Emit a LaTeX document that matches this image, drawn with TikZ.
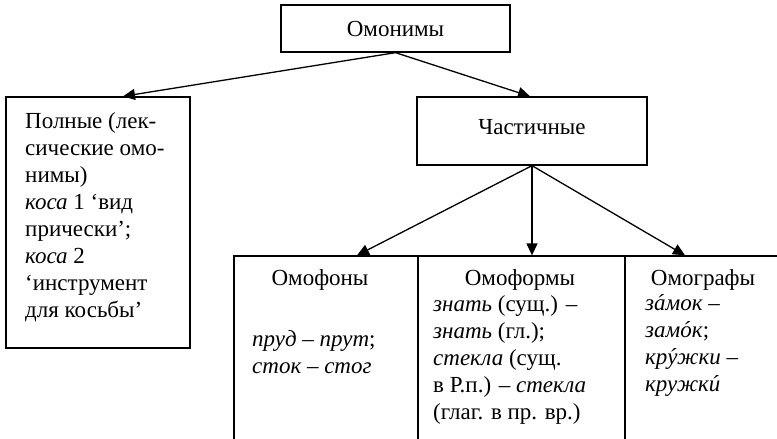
\documentclass[tikz,border=0pt]{standalone}
\usepackage{fontspec}
\setmainfont{Liberation Serif}
\usetikzlibrary{arrows.meta,positioning}

\newcommand{\stress}[1]{\accent"00B4 #1}

\tikzset{
  box/.style={draw, line width=1.3pt, inner sep=0pt, font=\fontsize{23}{27}\selectfont},
  txt/.style={inner sep=0pt, align=left, font=\fontsize{23}{27}\selectfont},
  arr/.style={-{Triangle[length=12pt,width=11pt]}, line width=1.3pt}
}

\begin{document}
\begin{tikzpicture}[x=1pt,y=-1pt]
    \clip (0,0) rectangle (777,439);

    % Boxes
    \node[box, minimum width=229pt, minimum height=47pt] (omon) at (395.5,28.5) {Омонимы};
    \node[box, minimum width=184pt, minimum height=251pt] (full) at (98,222.5) {};
    \node[box, minimum width=230pt, minimum height=68pt, text depth=8pt] (part) at (532,131) {Частичные};

    \node[box, minimum width=184pt, minimum height=220pt] (omof) at (326,366) {};
    \node[box, minimum width=207pt, minimum height=220pt] (omoform) at (521.5,366) {};
    \node[box, minimum width=175pt, minimum height=220pt] (omogr) at (712.5,366) {};

    % Texts (base = last line)
    \node[txt, anchor=base west] (fulltxt) at (25,317) {Полные (лек-\\сические омо-\\нимы)\\\textit{коса} 1 ‘вид\\прически’;\\\textit{коса} 2\\‘инструмент\\для косьбы’};

    \node[txt, anchor=base] (omoftitle) at (320,285) {Омофоны};
    \node[txt, anchor=base west] (omoftxt) at (252,373) {\textit{пруд – прут};\\\textit{сток – стог}};

    \node[txt, anchor=base] (omoformtitle) at (520,285) {Омоформы};
    \node[txt, anchor=base west] (omoformtxt) at (433,419) {\textit{знать} (сущ.) –\\\textit{знать} (гл.);\\\textit{стекла} (сущ.\\в Р.п.) – \textit{стекла}\\(глаг. в пр. вр.)};

    \node[txt, anchor=base] (omogrtitle) at (703,285) {Омографы};
    \node[txt, anchor=base west] (omogrtxt) at (645,391) {\textit{з\stress{а}мок –}\\\textit{зам\stress{о}к};\\\textit{кр\stress{у}жки –}\\\textit{кружк\stress{и}}};

    % Arrows
    \draw[arr] (omon.south) -- ([xshift=25pt]full.north);
    \draw[arr] (omon.south) -- ([xshift=-2pt]part.north);
    \draw[arr] (part.south) -- ([xshift=31pt]omof.north);
    \draw[arr] (part.south) -- (part.south |- omoform.north);
    \draw[arr] (part.south) -- ([xshift=-27.5pt]omogr.north);
\end{tikzpicture}
\end{document}
